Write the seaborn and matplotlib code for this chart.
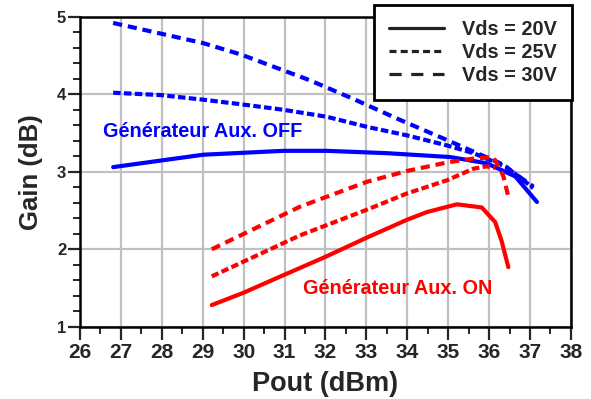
import numpy as np
import pandas as pd
import seaborn as sns
import matplotlib.pyplot as plt
from matplotlib.lines import Line2D
from matplotlib.ticker import MultipleLocator

# Generateur Aux. OFF (blue)
off_20_x = [26.81, 29.01, 30.97, 32.03, 33.5, 35.05, 35.94, 36.64, 37.17]
off_20_y = [3.06, 3.22, 3.27, 3.27, 3.24, 3.19, 3.11, 2.94, 2.61]
off_25_x = [26.81, 27.96, 29.01, 29.95, 30.97, 32.03, 33.01, 33.99, 34.97, 35.62, 36.43, 37.08]
off_25_y = [4.02, 3.99, 3.93, 3.87, 3.80, 3.71, 3.58, 3.47, 3.34, 3.24, 3.06, 2.79]
off_30_x = [26.81, 29.01, 29.95, 31.62, 32.68, 33.82, 34.88, 35.62, 36.27, 37.08]
off_30_y = [4.92, 4.66, 4.51, 4.18, 3.94, 3.67, 3.43, 3.26, 3.11, 2.81]

# Generateur Aux. ON (red)
on_20_x = [29.22, 30.0, 30.99, 31.99, 33.01, 33.99, 34.48, 35.21, 35.82, 36.15, 36.31, 36.47]
on_20_y = [1.28, 1.44, 1.67, 1.90, 2.15, 2.38, 2.48, 2.58, 2.54, 2.35, 2.10, 1.77]
on_25_x = [29.22, 31.38, 33.01, 33.99, 34.97, 35.62, 35.94, 36.15]
on_25_y = [1.65, 2.18, 2.51, 2.72, 2.89, 3.04, 3.07, 3.05]
on_30_x = [29.22, 31.38, 33.01, 33.99, 34.97, 35.62, 36.10, 36.27, 36.35, 36.47]
on_30_y = [2.00, 2.55, 2.87, 3.01, 3.12, 3.17, 3.19, 3.04, 2.94, 2.68]

series = [
    ("OFF", "20V", off_20_x, off_20_y),
    ("OFF", "25V", off_25_x, off_25_y),
    ("OFF", "30V", off_30_x, off_30_y),
    ("ON", "20V", on_20_x, on_20_y),
    ("ON", "25V", on_25_x, on_25_y),
    ("ON", "30V", on_30_x, on_30_y),
]
rows = []
for mode, vds, xs, ys in series:
    for x, y in zip(xs, ys):
        rows.append({"mode": mode, "vds": vds, "Pout": x, "Gain": y})
df = pd.DataFrame(rows)

sns.set_style("white")
plt.rcParams["font.family"] = ["Liberation Sans", "DejaVu Sans"]
plt.rcParams["font.weight"] = "bold"

fig = plt.figure(figsize=(5.91, 3.99), dpi=100)
ax = fig.add_axes([0.1354, 0.181, 0.966 - 0.1354, 0.958 - 0.181])

palette = {"OFF": "#0000ff", "ON": "#ff0000"}
dashes = {"20V": "", "25V": (1.8, 0.8), "30V": (2.2, 1.4)}
sns.lineplot(data=df, x="Pout", y="Gain", hue="mode", style="vds",
             palette=palette, dashes=dashes, sort=False, estimator=None,
             linewidth=3, ax=ax, legend=False)

ax.set_xlim(26, 38)
ax.set_ylim(1, 5)
ax.xaxis.set_major_locator(MultipleLocator(1))
ax.xaxis.set_minor_locator(MultipleLocator(0.5))
ax.yaxis.set_major_locator(MultipleLocator(1))
ax.yaxis.set_minor_locator(MultipleLocator(0.2))
ax.grid(True, which="major", color="#c0c0c0", linewidth=1.6)
ax.set_axisbelow(True)
for s in ax.spines.values():
    s.set_linewidth(1.8)
    s.set_color("black")
ax.tick_params(which="major", direction="out", length=9, width=1.6,
               left=True, bottom=True)
ax.tick_params(which="minor", direction="out", length=5, width=1.4,
               left=True, bottom=True)
ax.tick_params(axis="x", which="major", labelsize=15, pad=3)
ax.tick_params(axis="y", which="major", labelsize=12, pad=1)
for lab in ax.get_xticklabels() + ax.get_yticklabels():
    lab.set_fontweight("bold")

ax.set_xlabel("Pout (dBm)", fontsize=19.5, fontweight="bold", labelpad=6)
ax.set_ylabel("Gain (dB)", fontsize=18.5, fontweight="bold", labelpad=10)

ax.text(26.56, 3.525, "Générateur Aux. OFF", color="#0000ff", fontsize=14.3,
        fontweight="bold", va="center", ha="left")
ax.text(31.45, 1.49, "Générateur Aux. ON", color="#ff0000", fontsize=14.3,
        fontweight="bold", va="center", ha="left")

handles = [Line2D([], [], color="#222222", lw=2.3, linestyle=ls)
           for ls in ["-", (0, (2.2, 1.3)), (0, (3.8, 3.0))]]
leg = fig.legend(handles, ["Vds = 20V", "Vds = 25V", "Vds = 30V"],
                 loc="upper right", bbox_to_anchor=(0.968, 0.987),
                 frameon=True, fancybox=False, handlelength=2.8,
                 prop={"weight": "bold", "size": 14.3},
                 borderpad=0.75, labelspacing=0.2, handletextpad=0.9,
                 borderaxespad=0)
leg.get_frame().set_edgecolor("black")
leg.get_frame().set_linewidth(2)
leg.get_frame().set_alpha(1)

fig.savefig("out.png", dpi=100)
